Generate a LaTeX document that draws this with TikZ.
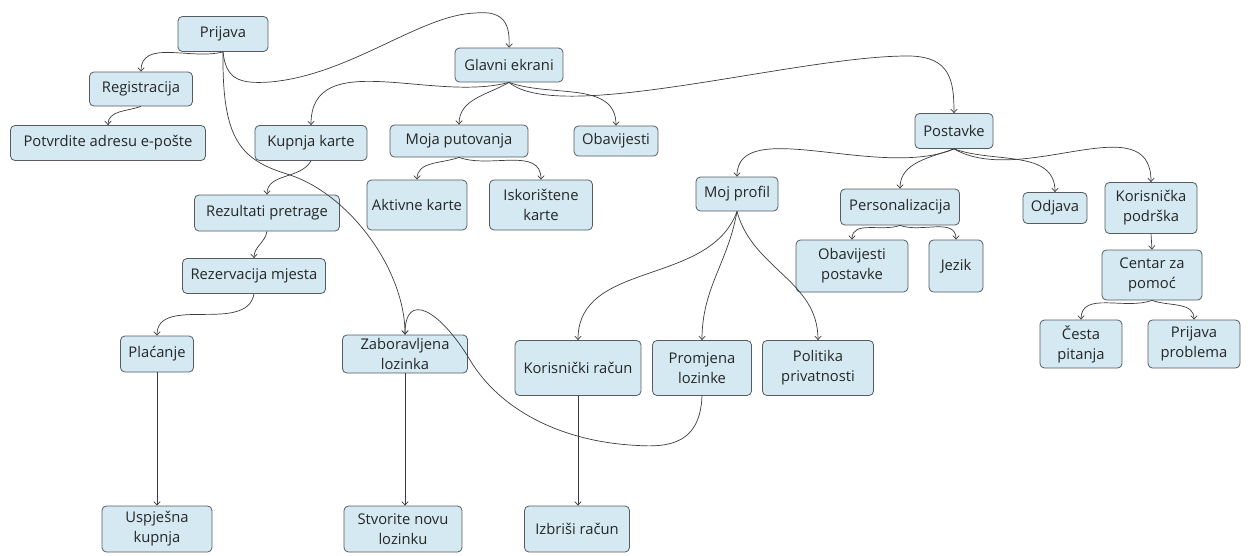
\documentclass[tikz,border=0pt]{standalone}
\usepackage{fontspec}
\setmainfont{Open Sans}
\usetikzlibrary{arrows.meta}
\definecolor{boxfill}{HTML}{D4E9F2}
\definecolor{boxline}{HTML}{555B60}
\definecolor{linkline}{HTML}{3C3C3C}
\begin{document}
\begin{tikzpicture}[x=0.02cm, y=-0.02cm,
    box/.style={draw=boxline, line width=0.45pt, fill=boxfill, rounded corners=2.5pt,
      align=center, inner sep=1pt, font=\fontsize{8.4}{11.3}\selectfont, text=black!85},
    link/.style={draw=linkline, line width=0.4pt, -{Straight Barb[length=2pt,width=3.6pt]}}]
  \useasboundingbox (0,0) rectangle (1251,555);
  % nodes
  \node[box, minimum width=1.8cm, minimum height=0.7cm] (prijava) at (223,34) {Prijava};
  \node[box, minimum width=2.06cm, minimum height=0.68cm] (registracija) at (141,89) {Registracija};
  \node[box, minimum width=3.9cm, minimum height=0.7cm] (potvrdite) at (108,143) {Potvrdite adresu e-pošte};
  \node[box, minimum width=2.16cm, minimum height=0.68cm] (glavni) at (509,65) {Glavni ekrani};
  \node[box, minimum width=2.24cm, minimum height=0.7cm] (kupnja) at (311,143) {Kupnja karte};
  \node[box, minimum width=2.76cm, minimum height=0.64cm] (moja) at (459,141) {Moja putovanja};
  \node[box, minimum width=1.68cm, minimum height=0.6cm] (obavijesti) at (616,141) {Obavijesti};
  \node[box, minimum width=2.0cm, minimum height=1.0cm] (aktivne) at (417,205) {Aktivne karte};
  \node[box, minimum width=2.06cm, minimum height=1.0cm] (iskoristene) at (541,205) {Iskorištene\\karte};
  \node[box, minimum width=1.56cm, minimum height=0.7cm] (postavke) at (954,131) {Postavke};
  \node[box, minimum width=1.64cm, minimum height=0.68cm] (mojprofil) at (737,194) {Moj profil};
  \node[box, minimum width=2.38cm, minimum height=0.72cm] (personalizacija) at (900,207) {Personalizacija};
  \node[box, minimum width=1.28cm, minimum height=0.62cm] (odjava) at (1055,208) {Odjava};
  \node[box, minimum width=1.84cm, minimum height=1.02cm] (podrska) at (1151,208) {Korisnička\\podrška};
  \node[box, minimum width=2.24cm, minimum height=1.04cm] (obavpostavke) at (852,266) {Obavijesti\\postavke};
  \node[box, minimum width=1.08cm, minimum height=1.04cm] (jezik) at (956,266) {Jezik};
  \node[box, minimum width=2.0cm, minimum height=1.0cm] (centar) at (1152,275) {Centar za\\pomoć};
  \node[box, minimum width=1.64cm, minimum height=0.96cm] (cesta) at (1081,344) {Česta\\pitanja};
  \node[box, minimum width=1.84cm, minimum height=0.96cm] (problem) at (1194,344) {Prijava\\problema};
  \node[box, minimum width=2.9cm, minimum height=0.72cm] (rezultati) at (267,213) {Rezultati pretrage};
  \node[box, minimum width=2.86cm, minimum height=0.7cm] (rezervacija) at (254,276) {Rezervacija mjesta};
  \node[box, minimum width=1.46cm, minimum height=0.72cm] (placanje) at (157,354) {Plaćanje};
  \node[box, minimum width=2.5cm, minimum height=0.76cm] (zaboravljena) at (405,354) {Zaboravljena\\lozinka};
  \node[box, minimum width=2.52cm, minimum height=1.1cm] (racun) at (578,368) {Korisnički račun};
  \node[box, minimum width=1.98cm, minimum height=1.1cm] (promjena) at (702,368) {Promjena\\lozinke};
  \node[box, minimum width=2.22cm, minimum height=1.1cm] (politika) at (818,368) {Politika\\privatnosti};
  \node[box, minimum width=2.2cm, minimum height=0.92cm] (uspjesna) at (157,529) {Uspješna\\kupnja};
  \node[box, minimum width=2.36cm, minimum height=0.92cm] (stvorite) at (403,529) {Stvorite novu\\lozinku};
  \node[box, minimum width=2.1cm, minimum height=0.92cm] (izbrisi) at (577,529) {Izbriši račun};
  % connectors
  \draw[link] (prijava.south) .. controls (226,80) and (240,84) .. (270,82) .. controls (350,75) and (420,15) .. (475,13) .. controls (505,10) and (510,25) .. (glavni.north);
  \draw[link] (prijava.south) to[out=195, in=90] (registracija.north);
  \draw[link] (registracija.south) to[out=200, in=90] (potvrdite.north);
  \draw[link] (prijava.south) .. controls (222,140) and (240,160) .. (290,175) .. controls (350,195) and (405,270) .. (zaboravljena.north);
  \draw[link] (glavni.south) to[out=195, in=90] (kupnja.north);
  \draw[link] (glavni.south) to[out=210, in=90] (moja.north);
  \draw[link] (glavni.south) to[out=-20, in=90] (obavijesti.north);
  \draw[link] (glavni.south) .. controls (560,125) and (800,55) .. (910,56) .. controls (950,57) and (954,80) .. (postavke.north);
  \draw[link] (moja.south) to[out=200, in=90] (aktivne.north);
  \draw[link] (moja.south) to[out=-20, in=90] (iskoristene.north);
  \draw[link] (kupnja.south) to[out=-120, in=90] (rezultati.north);
  \draw[link] (rezultati.south) to[out=-100, in=90] (rezervacija.north);
  \draw[link] (rezervacija.south) to[out=-100, in=90] (placanje.north);
  \draw[link] (placanje.south) -- (uspjesna.north);
  \draw[link] (zaboravljena.south) -- (zaboravljena.south |- stvorite.north);
  \draw[link] (racun.south) -- (racun.south |- izbrisi.north);
  \draw[link] (postavke.south) .. controls (880,180) and (737,115) .. (mojprofil.north);
  \draw[link] (postavke.south) to[out=200, in=90] (personalizacija.north);
  \draw[link] (postavke.south) to[out=-20, in=90] (odjava.north);
  \draw[link] (postavke.south) to[out=-30, in=90] (podrska.north);
  \draw[link] (personalizacija.south) to[out=200, in=90] (obavpostavke.north);
  \draw[link] (personalizacija.south) to[out=-20, in=90] (jezik.north);
  \draw[link] (podrska.south) -- (centar.north);
  \draw[link] (centar.south) to[out=200, in=90] (cesta.north);
  \draw[link] (centar.south) to[out=-20, in=90] (problem.north);
  \draw[link] (mojprofil.south) to[out=-110, in=90] (racun.north);
  \draw[link] (mojprofil.south) to[out=-100, in=90] (promjena.north);
  \draw[link] (mojprofil.south) to[out=-75, in=90] (politika.north);
  \draw[link] (promjena.south) .. controls (700,450) and (660,447) .. (630,445) .. controls (560,440) and (500,410) .. (470,360) .. controls (440,310) and (405,290) .. (zaboravljena.north);
\end{tikzpicture}
\end{document}
